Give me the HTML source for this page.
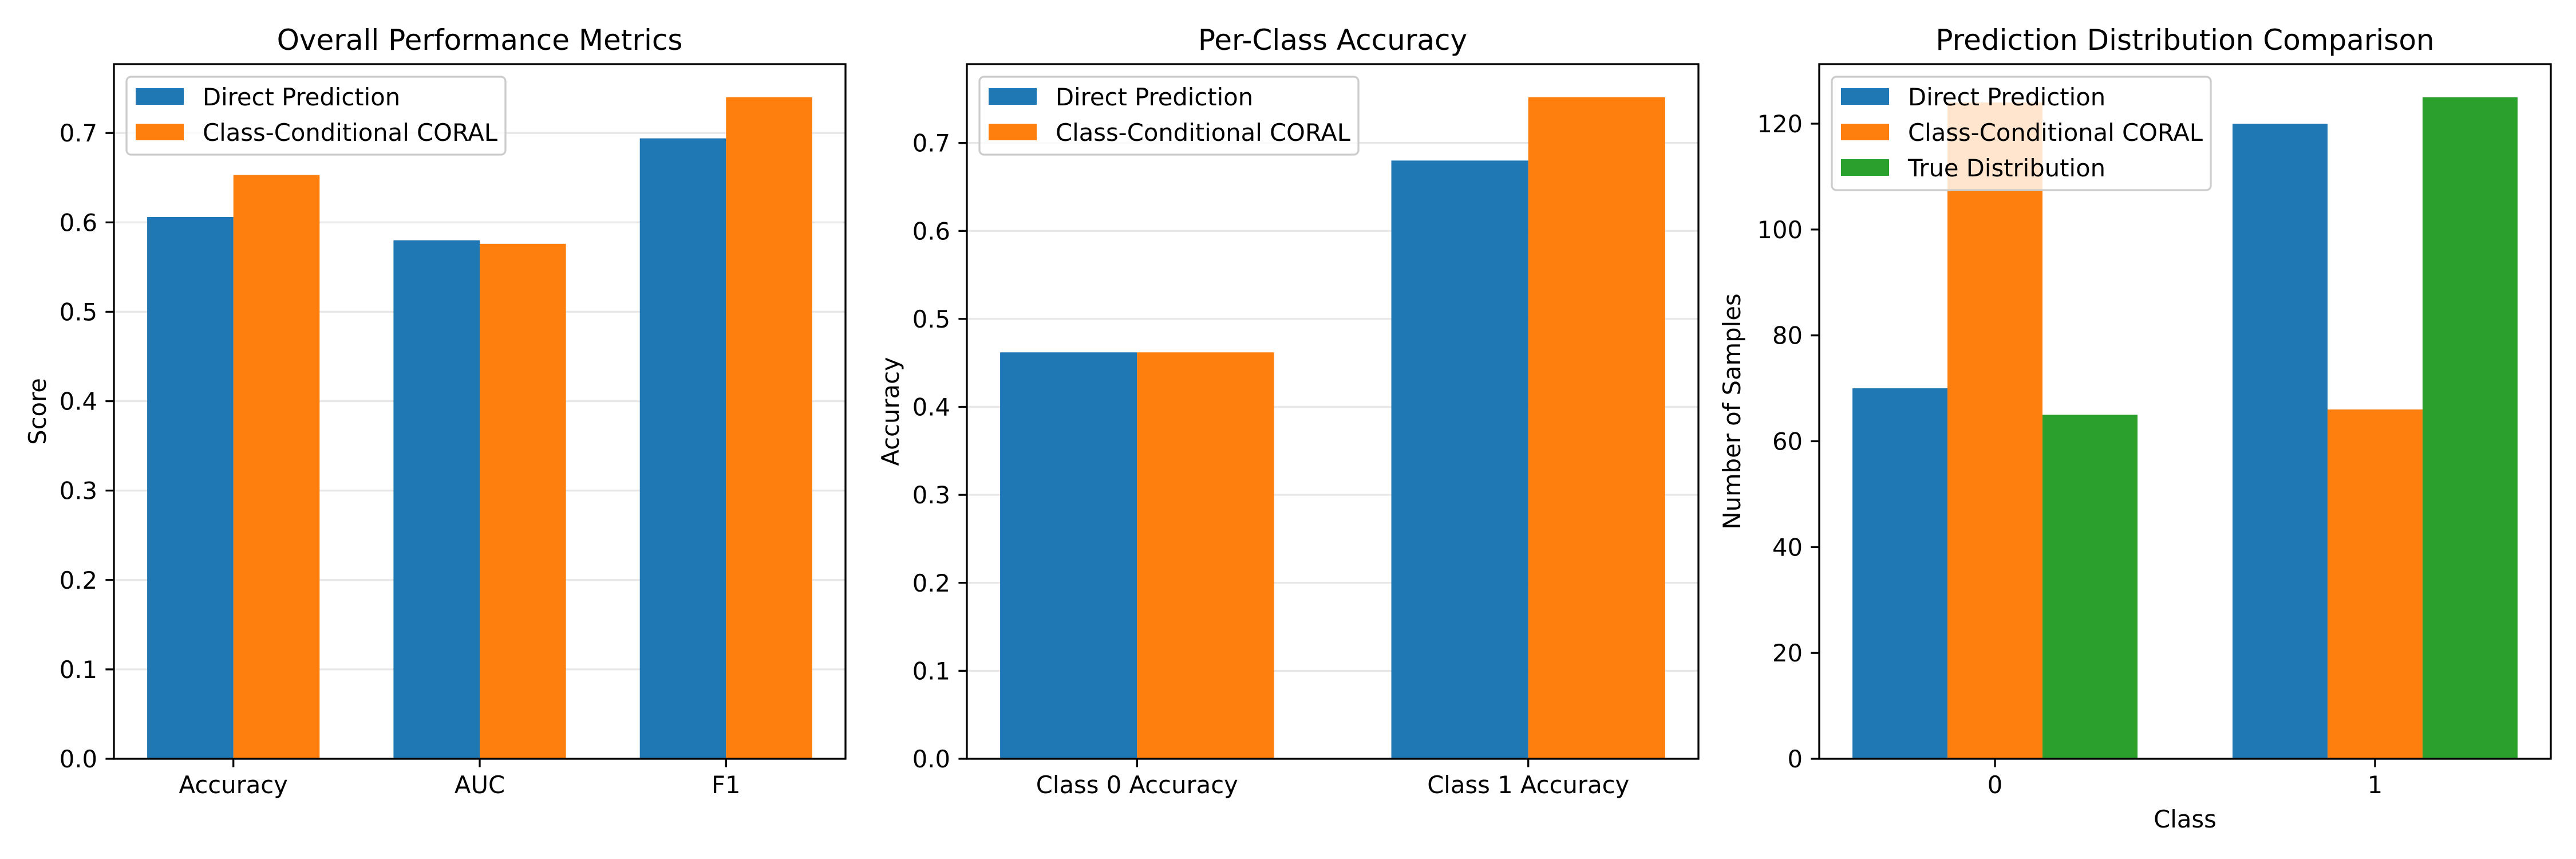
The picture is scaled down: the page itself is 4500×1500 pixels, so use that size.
<!DOCTYPE html>
<html><head><meta charset="utf-8"><style>
html,body{margin:0;padding:0;background:#fff;}
svg{display:block;font-family:"DejaVu Sans","Liberation Sans",sans-serif;}
</style></head><body>
<svg id="fig" width="4500" height="1500" viewBox="0 0 4500 1500" xmlns="http://www.w3.org/2000/svg"></svg>
<script>
// ---- data ----
const metricCats = ["Accuracy", "AUC", "F1"];
const metricDirect = [0.606, 0.580, 0.694];
const metricCoral = [0.653, 0.576, 0.740];
const metricTicks = [0.0, 0.1, 0.2, 0.3, 0.4, 0.5, 0.6, 0.7];

const classCats = ["Class 0 Accuracy", "Class 1 Accuracy"];
const classDirect = [0.462, 0.680];
const classCoral = [0.462, 0.752];
const classTicks = [0.0, 0.1, 0.2, 0.3, 0.4, 0.5, 0.6, 0.7];

const distCats = ["0", "1"];
const distDirect = [70, 120];
const distCoral = [124, 66];
const distTrue = [65, 125];
const distTicks = [0, 20, 40, 60, 80, 100, 120];

const seriesNames = ["Direct Prediction", "Class-Conditional CORAL", "True Distribution"];
const colors = ["#1f77b4", "#ff7f0e", "#2ca02c"];

const svg = document.getElementById('fig');
const NS = "http://www.w3.org/2000/svg";
function mk(tag, attrs, parent) {
  const e = document.createElementNS(NS, tag);
  for (const k in attrs) e.setAttribute(k, attrs[k]);
  (parent || svg).appendChild(e);
  return e;
}
const FS = 41.7;
const TOP = 112, BOT = 1325;

function panel(opts) {
  const g = mk('g', {});
  
  
  const L = opts.left, R = opts.left + 1278;
  const n = opts.cats.length;
  const nS = opts.series.length;
  const w = opts.barW;
  const half = (nS * w) / 2;
  const span = (n - 1) + 2 * half;
  const xmin = -half - 0.05 * span, xmax = (n - 1) + half + 0.05 * span;
  let maxV = 0;
  opts.series.forEach(s => s.forEach(v => { if (v > maxV) maxV = v; }));
  const ymax = maxV * 1.05;
  const X = v => L + (v - xmin) / (xmax - xmin) * (R - L);
  const Y = v => BOT - v / ymax * (BOT - TOP);

  if (opts.grid) {
    opts.ticks.forEach(t => {
      const gl = mk('line', {x1: L, x2: R, y1: Y(t), y2: Y(t), stroke: '#b0b0b0', 'stroke-opacity': 0.3, 'stroke-width': 3.3}, g);
      
      
    });
  }
  opts.series.forEach((s, si) => {
    s.forEach((v, ci) => {
      const x0 = ci - half + si * w;
      const r = mk('rect', {x: X(x0), y: Y(v), width: X(x0 + w) - X(x0), height: Y(0) - Y(v), fill: colors[si]}, g);
      
      
    });
  });
  opts.ticks.forEach(t => {
    mk('line', {x1: L - 14.6, x2: L, y1: Y(t), y2: Y(t), stroke: '#000', 'stroke-width': 3.3}, g);
    const tx = mk('text', {x: L - 29, y: Y(t) + 15, 'text-anchor': 'end', 'font-size': FS, fill: '#000'}, g);
    tx.textContent = opts.tickFmt(t);
    
    
  });
  opts.cats.forEach((c, i) => {
    mk('line', {x1: X(i), x2: X(i), y1: BOT, y2: BOT + 14.6, stroke: '#000', 'stroke-width': 3.3}, g);
    const tx = mk('text', {x: X(i), y: BOT + 29 + 31, 'text-anchor': 'middle', 'font-size': FS, fill: '#000'}, g);
    tx.textContent = c;
    
    
  });
  const fr = mk('rect', {x: L, y: TOP, width: R - L, height: BOT - TOP, fill: 'none', stroke: '#000', 'stroke-width': 3.3}, g);
  
  
  const ti = mk('text', {x: (L + R) / 2, y: 87, 'text-anchor': 'middle', 'font-size': 50, fill: '#000'}, g);
  ti.textContent = opts.title;
  
  
  const yl = mk('text', {x: 0, y: 0, 'text-anchor': 'middle', 'font-size': FS, fill: '#000', transform: 'translate(' + (L - opts.ylabOff) + ',' + ((TOP + BOT) / 2) + ') rotate(-90)'}, g);
  yl.textContent = opts.ylabel;
  
  
  if (opts.xlabel) {
    const xl = mk('text', {x: (L + R) / 2, y: 1445, 'text-anchor': 'middle', 'font-size': FS, fill: '#000'}, g);
    xl.textContent = opts.xlabel;
    
    
  }
  const lg = mk('g', {}, g);
  
  
  const lx = L + 22, ly = TOP + 22;
  mk('rect', {x: lx, y: ly, width: 662, height: 12 + 62 * nS, rx: 8, fill: '#fff', 'fill-opacity': 0.8, stroke: '#cccccc', 'stroke-width': 3.3}, lg);
  for (let i = 0; i < nS; i++) {
    const cy = ly + 35 + 62 * i;
    const ent = mk('g', {}, lg);
    
    
    mk('rect', {x: lx + 16, y: cy - 15, width: 84, height: 29, fill: colors[i]}, ent);
    const t = mk('text', {x: lx + 133, y: cy + 15, 'font-size': FS, fill: '#000'}, ent);
    t.textContent = seriesNames[i];
  }
}

panel({name: 'overall-performance-chart', left: 199, cats: metricCats, series: [metricDirect, metricCoral], barW: 0.35,
  ticks: metricTicks, tickFmt: t => t.toFixed(1), grid: true, title: 'Overall Performance Metrics', ylabel: 'Score', ylabOff: 119});
panel({name: 'per-class-accuracy-chart', left: 1689, cats: classCats, series: [classDirect, classCoral], barW: 0.35,
  ticks: classTicks, tickFmt: t => t.toFixed(1), grid: true, title: 'Per-Class Accuracy', ylabel: 'Accuracy', ylabOff: 119});
panel({name: 'prediction-distribution-chart', left: 3178, cats: distCats, series: [distDirect, distCoral, distTrue], barW: 0.25,
  ticks: distTicks, tickFmt: t => String(t), grid: false, title: 'Prediction Distribution Comparison', ylabel: 'Number of Samples', ylabOff: 138, xlabel: 'Class'});
</script>
</body></html>
